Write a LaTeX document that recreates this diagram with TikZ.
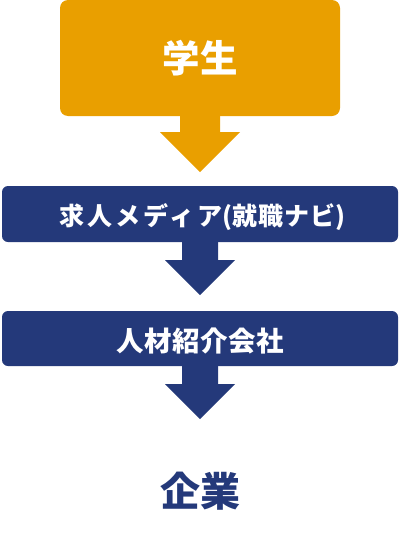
\documentclass[tikz,border=0pt]{standalone}
\usepackage{fontspec}
\setmainfont{Noto Sans CJK JP}
\usetikzlibrary{calc}
\definecolor{orng}{RGB}{233,159,0}
\definecolor{navy}{RGB}{36,57,122}
\tikzset{
  box/.style={inner sep=0pt, text=white, font=\bfseries},
  topbox/.style={box, fill=orng, minimum width=280pt, minimum height=116pt, rounded corners=8pt},
  midbox/.style={box, fill=navy, minimum width=396pt, minimum height=56pt, rounded corners=6pt},
  lbl/.style={inner sep=0pt, text=white, font=\bfseries},
}
\begin{document}
\begin{tikzpicture}[x=1pt,y=-1pt]
\useasboundingbox (0,0) rectangle (400,549);
\node[topbox] (s) at (200,58) {\fontsize{37.5}{37.5}\selectfont 学生};
\node[midbox] (m) at (200,214) {};
\node[lbl, anchor=west] (mt) at ($(m.west)+(57,3)$) {\fontsize{25}{25}\selectfont{\addfontfeature{LetterSpace=12}求人メディア}{\addfontfeature{LetterSpace=3}(就職ナビ)}};
\node[midbox, minimum height=55pt] (a) at (200,338.5) {};
\node[lbl] (at) at ($(a.center)+(0,3)$) {\fontsize{27.5}{27.5}\selectfont\addfontfeature{LetterSpace=2}人材紹介会社};
\node[inner sep=0pt, text=navy, font=\bfseries] (c) at (200,491.5) {\fontsize{40}{40}\selectfont 企業};
% arrows
\fill[orng] ($(s.south)+(-20,-1)$) -- ($(s.south)+(20,-1)$) -- ($(s.south)+(20,16)$) -- ($(s.south)+(40,16)$) -- ($(s.south)+(0,56)$) -- ($(s.south)+(-40,16)$) -- ($(s.south)+(-20,16)$) -- cycle;
\fill[navy] ($(m.south)+(-18,-1)$) -- ($(m.south)+(18,-1)$) -- ($(m.south)+(18,18)$) -- ($(m.south)+(35,18)$) -- ($(m.south)+(0,53)$) -- ($(m.south)+(-35,18)$) -- ($(m.south)+(-18,18)$) -- cycle;
\fill[navy] ($(a.south)+(-18,-1)$) -- ($(a.south)+(18,-1)$) -- ($(a.south)+(18,18)$) -- ($(a.south)+(35,18)$) -- ($(a.south)+(0,53)$) -- ($(a.south)+(-35,18)$) -- ($(a.south)+(-18,18)$) -- cycle;
\end{tikzpicture}
\end{document}
